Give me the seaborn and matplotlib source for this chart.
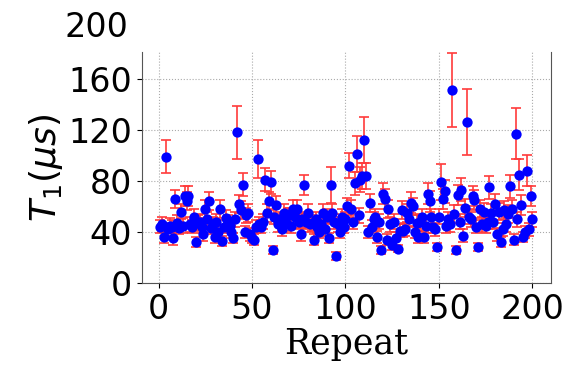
import matplotlib
matplotlib.use("Agg")
import matplotlib.pyplot as plt
import seaborn as sns
import numpy as np
import pandas as pd

# style
sns.set_style("ticks")
plt.rcParams['font.family'] = ['DejaVu Sans']
plt.rcParams['mathtext.fontset'] = 'dejavusans'
plt.rcParams['text.color'] = 'black'
plt.rcParams['axes.labelcolor'] = 'black'
plt.rcParams['xtick.color'] = 'black'
plt.rcParams['ytick.color'] = 'black'

# T1 values per repeat
t1 = [
    44, 46, 36, 99, 42, 45, 44, 35, 66, 47,
    43, 56, 45, 68, 64, 68, 46, 44, 52, 32,
    47, 48, 44, 38, 58, 50, 64, 43, 46, 36,
    48, 40, 58, 33, 44, 51, 47, 45, 40, 35,
    50, 118, 62, 57, 77, 40, 53, 55, 38, 35,
    34, 44, 97, 46, 44, 48, 81, 55, 64, 79,
    26, 52, 61, 46, 50, 42, 55, 47, 53, 53,
    45, 58, 52, 58, 48, 38, 50, 77, 48, 55,
    46, 47, 34, 50, 44, 40, 46, 55, 42, 52,
    35, 77, 55, 48, 21, 46, 40, 52, 44, 50,
    60, 92, 58, 48, 78, 101, 53, 81, 84, 112,
    84, 40, 63, 44, 50, 52, 36, 48, 26, 70,
    66, 34, 58, 46, 30, 48, 35, 27, 41, 57,
    41, 42, 55, 50, 63, 60, 40, 47, 36, 48,
    52, 36, 45, 70, 64, 52, 44, 42, 28, 52,
    79, 66, 72, 45, 50, 46, 151, 54, 26, 69,
    48, 73, 37, 59, 126, 52, 50, 68, 65, 44,
    28, 58, 46, 56, 45, 48, 75, 55, 48, 62,
    38, 56, 32, 42, 57, 46, 54, 76, 58, 34,
    117, 50, 85, 61, 36, 40, 88, 42, 68, 50,
]

# error bar half-widths
t1_err = [
    5, 6, 5, 13, 5, 6, 5, 5, 7, 6,
    5, 6, 6, 8, 7, 8, 6, 5, 6, 4,
    6, 6, 5, 5, 7, 6, 7, 5, 6, 5,
    6, 5, 7, 4, 5, 6, 6, 5, 5, 4,
    6, 21, 7, 7, 9, 5, 6, 7, 5, 4,
    4, 5, 15, 6, 5, 6, 9, 7, 7, 9,
    3, 6, 7, 6, 6, 5, 7, 6, 6, 6,
    6, 7, 6, 7, 6, 5, 6, 8, 6, 7,
    6, 6, 4, 6, 5, 5, 6, 7, 5, 6,
    4, 14, 7, 6, 3, 6, 5, 6, 5, 6,
    7, 10, 7, 6, 9, 14, 6, 10, 10, 18,
    10, 5, 7, 5, 6, 6, 5, 6, 3, 8,
    8, 4, 7, 6, 4, 6, 5, 3, 5, 7,
    5, 5, 7, 6, 8, 7, 5, 6, 5, 6,
    6, 5, 6, 8, 8, 6, 5, 5, 3, 6,
    14, 8, 9, 6, 6, 6, 29, 7, 3, 8,
    6, 9, 5, 7, 26, 6, 6, 8, 8, 5,
    3, 7, 6, 7, 6, 6, 9, 7, 6, 8,
    5, 7, 4, 5, 7, 6, 7, 9, 7, 4,
    20, 6, 12, 8, 4, 5, 12, 5, 8, 6,
]

repeats = list(range(1, len(t1) + 1))
x_ticks = [0, 50, 100, 150, 200]
y_ticks = [0, 40, 80, 120, 160]

df = pd.DataFrame({"Repeat": repeats, "T1": t1, "err": t1_err})

fig = plt.figure(figsize=(5.74, 3.67), dpi=100)
ax = fig.add_axes([0.247, 0.229, 0.713, 0.629])

ax.errorbar(df["Repeat"], df["T1"], yerr=df["err"], fmt="none",
            ecolor="#ff3b3b", elinewidth=1.2, capsize=3.5, capthick=1.2, zorder=2)
sns.scatterplot(data=df, x="Repeat", y="T1", ax=ax, color="blue",
                s=55, edgecolor="blue", linewidth=0, zorder=3)

ax.set_ylim(0, 181)
ax.set_xticks(x_ticks)
ax.set_yticks(y_ticks)
ax.tick_params(labelsize=24, colors="black")
ax.grid(True, linestyle=":", color="#aaaaaa", linewidth=0.8)
ax.set_axisbelow(True)

# top label sits above the axes box
ax.text(-0.033, 200, "200", transform=ax.get_yaxis_transform(),
        ha="right", va="center", fontsize=24, color="black", clip_on=False)

ax.set_xlabel("Repeat", fontsize=25, family="DejaVu Serif", labelpad=1)
ax.set_ylabel(r"$T_1(\mu s)$", fontsize=26, labelpad=2)

for side in ["left", "bottom", "right"]:
    ax.spines[side].set_color("#555555")
ax.spines["top"].set_visible(False)

fig.savefig("out.png", dpi=100)
